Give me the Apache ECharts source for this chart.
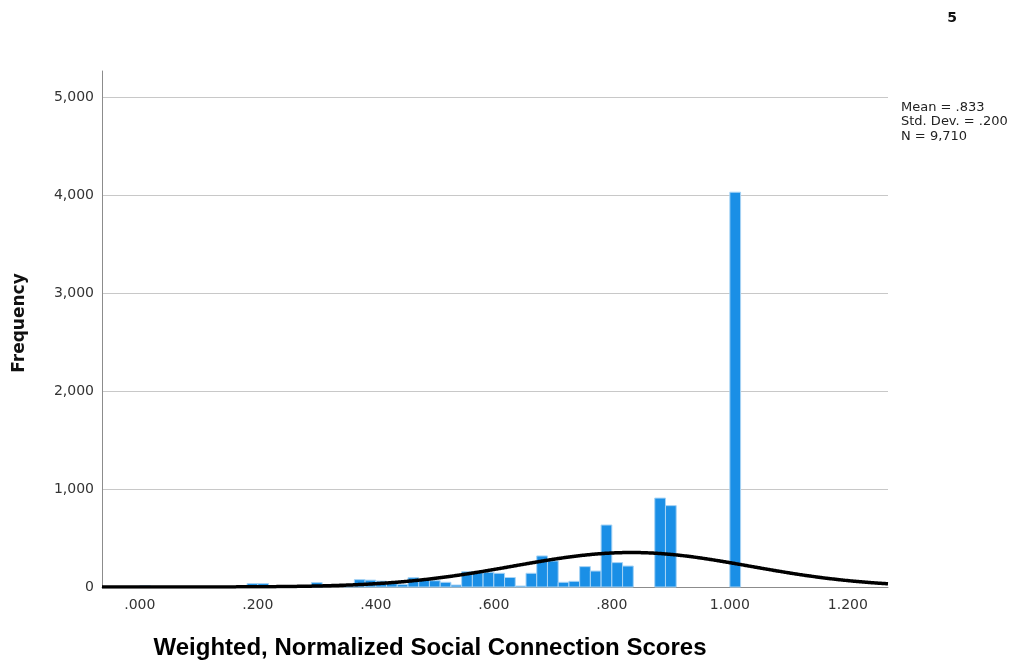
<!DOCTYPE html>
<html>
<head>
<meta charset="utf-8">
<title>Weighted, Normalized Social Connection Scores</title>
<script src="https://cdn.jsdelivr.net/npm/echarts@6/dist/echarts.min.js"></script>
<style>
  html, body { margin: 0; padding: 0; background: #ffffff; }
  #chart { width: 1022px; height: 671px; }
</style>
</head>
<body>
<div id="chart"></div>
<script>
// Histogram bins: 55 equal-width bins from 0 to 1, plus one bin starting at 1.000
const binWidth = 1 / 55;
const binCounts = [
  12, 0, 0, 0, 0, 0, 0, 0, 0, 0,
  35, 35, 0, 0, 0, 0, 45, 0, 0, 8,
  75, 70, 60, 35, 25, 95, 72, 64, 48, 20,
  156, 150, 150, 140, 97, 10, 140, 317, 266, 48,
  58, 208, 163, 633, 249, 214, 0, 0, 908, 831,
  0, 0, 0, 0, 0, 4032
];

// Summary statistics shown beside the plot (also define the normal curve)
const stats = { mean: 0.833, sd: 0.200, n: 9710 };
const statLines = ['Mean = .833', 'Std. Dev. = .200', 'N = 9,710'];

// Axis ticks
const xTickValues = [0, 0.2, 0.4, 0.6, 0.8, 1.0, 1.2];
const xTickLabels = ['.000', '.200', '.400', '.600', '.800', '1.000', '1.200'];
const yTickValues = [0, 1000, 2000, 3000, 4000, 5000];

const xMin = -0.064, xMax = 1.268, yMax = 5270;

// Bars as [start, end, count]
const histData = [];
binCounts.forEach((c, k) => {
  if (c > 0) histData.push([k * binWidth, (k + 1) * binWidth, c]);
});

// Normal curve scaled to counts per bin
const curveData = [];
const curveSteps = 400;
for (let i = 0; i <= curveSteps; i++) {
  const x = xMin + (xMax - xMin) * i / curveSteps;
  const z = (x - stats.mean) / stats.sd;
  const y = stats.n * binWidth * Math.exp(-0.5 * z * z) / (stats.sd * Math.sqrt(2 * Math.PI));
  curveData.push([x, y]);
}

const chart = echarts.init(document.getElementById('chart'), null, { renderer: 'canvas' });

chart.setOption({
  animation: false,
  backgroundColor: '#ffffff',
  grid: { left: 102, right: 134, top: 71, bottom: 84 },
  xAxis: {
    type: 'value',
    min: xMin,
    max: xMax,
    axisLine: { show: true, onZero: false, lineStyle: { color: '#8c8c8c', width: 1 } },
    axisTick: { show: false },
    splitLine: { show: false },
    axisLabel: {
      customValues: xTickValues,
      fontFamily: 'DejaVu Sans',
      fontSize: 14,
      color: '#333333',
      margin: 11,
      formatter: v => {
        const i = xTickValues.findIndex(t => Math.abs(t - v) < 1e-9);
        return i >= 0 ? xTickLabels[i] : '';
      }
    }
  },
  yAxis: {
    type: 'value',
    min: 0,
    max: yMax,
    interval: 1000,
    axisLine: { show: true, onZero: false, lineStyle: { color: '#8c8c8c', width: 1 } },
    axisTick: { show: false },
    splitLine: { show: true, showMinLine: false, showMaxLine: false, lineStyle: { color: '#c8c8c8', width: 1 } },
    axisLabel: {
      customValues: yTickValues,
      fontFamily: 'DejaVu Sans',
      fontSize: 14,
      color: '#333333',
      margin: 8,
      formatter: v => v.toLocaleString('en-US')
    }
  },
  series: [
    {
      type: 'custom',
      name: 'Frequency',
      data: histData,
      encode: { x: [0, 1], y: 2 },
      z: 2,
      renderItem: (params, api) => {
        const top = api.coord([api.value(0), api.value(2)]);
        const base = api.coord([api.value(1), 0]);
        return {
          type: 'rect',
          shape: { x: top[0], y: top[1], width: base[0] - top[0], height: base[1] - top[1] },
          style: { fill: '#1a8fe6', stroke: '#a6d3f5', lineWidth: 1 }
        };
      }
    },
    {
      type: 'line',
      name: 'Normal',
      data: curveData,
      showSymbol: false,
      symbol: 'none',
      smooth: true,
      z: 5,
      lineStyle: { color: '#000000', width: 3.5 }
    }
  ],
  graphic: [
    {
      type: 'text',
      x: 20,
      y: 323,
      rotation: Math.PI / 2,
      style: {
        text: 'Frequency',
        font: 'bold 17px "DejaVu Sans"',
        fill: '#111111',
        textAlign: 'center',
        textVerticalAlign: 'middle'
      }
    },
    {
      type: 'text',
      x: 430,
      y: 648,
      style: {
        text: 'Weighted, Normalized Social Connection Scores',
        font: 'bold 24px "Liberation Sans"',
        fill: '#000000',
        textAlign: 'center',
        textVerticalAlign: 'middle'
      }
    },
    {
      type: 'text',
      x: 901,
      y: 100,
      style: {
        text: statLines.join('\n'),
        font: '13px "DejaVu Sans"',
        lineHeight: 14.5,
        fill: '#222222',
        textAlign: 'left',
        textVerticalAlign: 'top'
      }
    },
    {
      type: 'text',
      x: 952,
      y: 18,
      style: {
        text: '5',
        font: 'bold 14px "DejaVu Sans"',
        fill: '#111111',
        textAlign: 'center',
        textVerticalAlign: 'middle'
      }
    }
  ]
});
</script>
</body>
</html>
